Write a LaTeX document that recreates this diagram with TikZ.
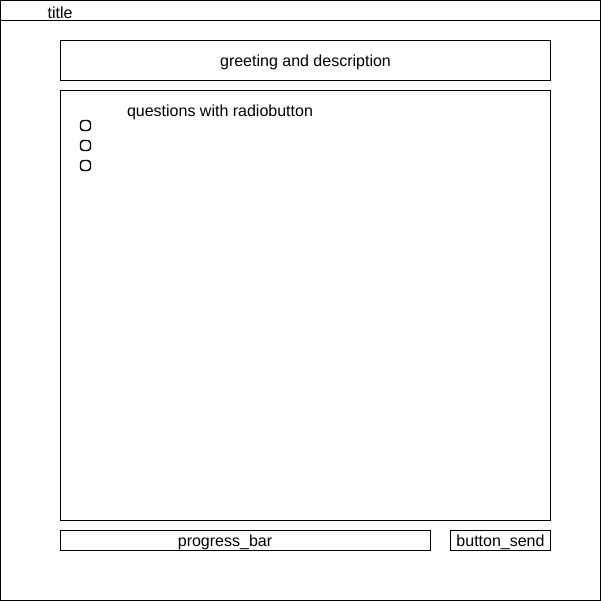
\documentclass[tikz,border=0pt]{standalone}
\usepackage{fontspec}
\setmainfont{Liberation Sans}
\usepackage{tikz}
\tikzstyle{frame}=[draw,line width=1pt,inner sep=0,outer sep=0,anchor=north west]
\tikzstyle{radio}=[draw,rectangle,rounded corners=3pt,line width=1.4pt,minimum size=10pt,inner sep=0]
\tikzstyle{label}=[inner sep=0,font=\fontsize{16}{18}\selectfont]
\def\W{600}
\def\H{600}
\begin{document}
\begin{tikzpicture}[x=1pt,y=-1pt]
  \useasboundingbox (0,0) rectangle (601,601);
  
  % WINDOW
  \node[frame,minimum width=\W,minimum height=\H] (window) at (0.5,0.5) {};
  \node[frame,minimum width=\W,minimum height=20] (titlebar) at (0.5,0.5) {};
  \node[label] (title) at (60,12.5) {title};
  
  % GREETING
  \node[frame,minimum width=490,minimum height=40] (greeting) at (60.5,40.5) {};
  \node[label] (greettext) at ([yshift=-1.5]greeting.center) {greeting and description};
  
  % QUESTIONS
  \node[frame,minimum width=490,minimum height=430] (questions) at (60.5,90.5) {};
  \node[label] (questtext) at (220,112.5) {questions with radiobutton};
  \foreach \i in {1,2,3}{
    \node[radio] (radio\i) at (85.5,{105.5+20*\i}) {};
  }
  
  % BOTTOM
  \node[frame,minimum width=370,minimum height=20] (progress) at (60.5,530.5) {};
  \node[label] (progtext) at (225,542.5) {progress\_bar};
  \node[frame,minimum width=100,minimum height=20] (send) at (450.5,530.5) {};
  \node[label] (sendtext) at ([yshift=-1.5]send.center) {button\_send};
  
\end{tikzpicture}
\end{document}
